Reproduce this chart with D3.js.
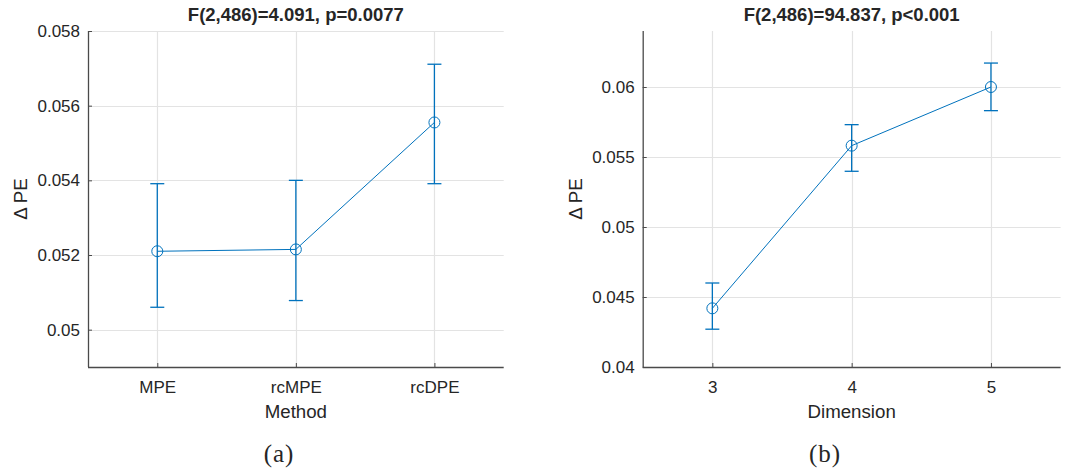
<!DOCTYPE html>
<html>
<head>
<meta charset="utf-8">
<script src="https://cdn.jsdelivr.net/npm/d3@7"></script>
<style>
  html, body { margin: 0; padding: 0; background: #fff; }
  svg { display: block; }
  text { font-family: "Liberation Sans", Arial, Helvetica, sans-serif; fill: #262626; }
</style>
</head>
<body>
<svg id="fig" width="1067" height="475"></svg>
<script>
// Panel (a): effect of method
const methodCats = ["MPE", "rcMPE", "rcDPE"];
const methodMean = [0.05210, 0.05215, 0.05555];
const methodLow  = [0.05060, 0.05078, 0.05391];
const methodHigh = [0.05391, 0.05400, 0.05711];
const methodTicks = [0.05, 0.052, 0.054, 0.056, 0.058];

// Panel (b): effect of embedding dimension
const dimCats = [3, 4, 5];
const dimMean = [0.04419, 0.05581, 0.06000];
const dimLow  = [0.04270, 0.05398, 0.05831];
const dimHigh = [0.04600, 0.05731, 0.06171];
const dimTicks = [0.04, 0.045, 0.05, 0.055, 0.06];

const BLUE = "#0072BD";
const svg = d3.select("#fig");

function panel(cfg) {
  const g = svg.append("g");
  const x = d3.scaleLinear().domain([0.5, cfg.cats.length + 0.5]).range([cfg.left, cfg.right]);
  const y = d3.scaleLinear().domain(cfg.yDomain).range([cfg.bottom, cfg.top]);
  const idx = cfg.cats.map((c, i) => i + 1);

  // grid
  g.append("g").selectAll("line.gy").data(cfg.yTicks).join("line")
    .attr("x1", cfg.left).attr("x2", cfg.right)
    .attr("y1", d => Math.round(y(d)) + 0.5).attr("y2", d => Math.round(y(d)) + 0.5)
    .attr("stroke", "#e3e3e3").attr("stroke-width", 1.2);
  g.append("g").selectAll("line.gx").data(idx).join("line")
    .attr("x1", d => Math.round(x(d)) + 0.5).attr("x2", d => Math.round(x(d)) + 0.5)
    .attr("y1", cfg.top).attr("y2", cfg.bottom)
    .attr("stroke", "#e3e3e3").attr("stroke-width", 1.2);

  // axes
  const ya = g.append("g").attr("transform", `translate(${cfg.left},0)`)
    .call(d3.axisLeft(y).tickValues(cfg.yTicks).tickSize(-4).tickPadding(8)
      .tickFormat(d => String(+d.toFixed(4))));
  const xa = g.append("g").attr("transform", `translate(0,${cfg.bottom})`)
    .call(d3.axisBottom(x).tickValues(idx).tickSize(-4).tickPadding(14)
      .tickFormat((d, i) => cfg.cats[i]));
  [ya, xa].forEach(a => {
    a.select(".domain").attr("stroke", "#4a4a4a").attr("stroke-width", 1.3);
    a.selectAll(".tick line").attr("stroke", "#4a4a4a").attr("stroke-width", 1);
    a.selectAll(".tick text").attr("font-size", 17).attr("fill", "#262626")
      .attr("font-family", "Liberation Sans, Arial, sans-serif");
  });
  // keep only the left and bottom spines
  ya.select(".domain").attr("d", `M0.5,${cfg.top}V${cfg.bottom}`);
  xa.select(".domain").attr("d", `M${cfg.left},0.5H${cfg.right}`);

  // connecting line
  const pts = idx.map((d, i) => [x(d), y(cfg.mean[i])]);
  g.append("path").attr("d", d3.line()(pts))
    .attr("fill", "none").attr("stroke", BLUE).attr("stroke-width", 1);

  // error bars
  const eb = g.append("g").attr("stroke", BLUE).attr("stroke-width", 1.3);
  idx.forEach((d, i) => {
    const cx = x(d);
    eb.append("line").attr("x1", cx).attr("x2", cx)
      .attr("y1", y(cfg.low[i])).attr("y2", y(cfg.high[i]));
    eb.append("line").attr("x1", cx - 7).attr("x2", cx + 7)
      .attr("y1", y(cfg.low[i])).attr("y2", y(cfg.low[i]));
    eb.append("line").attr("x1", cx - 7).attr("x2", cx + 7)
      .attr("y1", y(cfg.high[i])).attr("y2", y(cfg.high[i]));
  });

  // markers
  g.append("g").selectAll("circle").data(pts).join("circle")
    .attr("cx", d => d[0]).attr("cy", d => d[1]).attr("r", 5.5)
    .attr("fill", "none").attr("stroke", BLUE).attr("stroke-width", 1);

  const cx = (cfg.left + cfg.right) / 2;
  // title
  g.append("text").attr("x", cx).attr("y", 21).attr("text-anchor", "middle")
    .attr("font-size", 18.5).attr("font-weight", "bold").attr("fill", "#000")
    .text(cfg.title);
  // x label
  g.append("text").attr("x", cx).attr("y", 417.5).attr("text-anchor", "middle")
    .attr("font-size", 18.7).text(cfg.xLabel);
  // y label
  g.append("text")
    .attr("transform", `translate(${cfg.yLabelX},${(cfg.top + cfg.bottom) / 2}) rotate(-90)`)
    .attr("text-anchor", "middle").attr("font-size", 18.7).text("\u0394 PE");
  // panel tag
  g.append("text").attr("x", cfg.tagX).attr("y", 462).attr("text-anchor", "middle")
    .attr("font-family", "Liberation Serif, 'Times New Roman', serif")
    .style("font-family", "'Liberation Serif', 'DejaVu Serif', serif")
    .attr("font-size", 25).attr("letter-spacing", 1).attr("fill", "#000")
    .text(cfg.tag);
}

panel({
  cats: methodCats, mean: methodMean, low: methodLow, high: methodHigh,
  yTicks: methodTicks, yDomain: [0.049, 0.058],
  left: 88, right: 503.7, top: 31, bottom: 367,
  title: "F(2,486)=4.091, p=0.0077", xLabel: "Method",
  yLabelX: 27, tagX: 279, tag: "(a)"
});

panel({
  cats: dimCats, mean: dimMean, low: dimLow, high: dimHigh,
  yTicks: dimTicks, yDomain: [0.04, 0.064],
  left: 642.7, right: 1060.6, top: 31, bottom: 367,
  title: "F(2,486)=94.837, p<0.001", xLabel: "Dimension",
  yLabelX: 582, tagX: 825, tag: "(b)"
});
</script>
</body>
</html>
